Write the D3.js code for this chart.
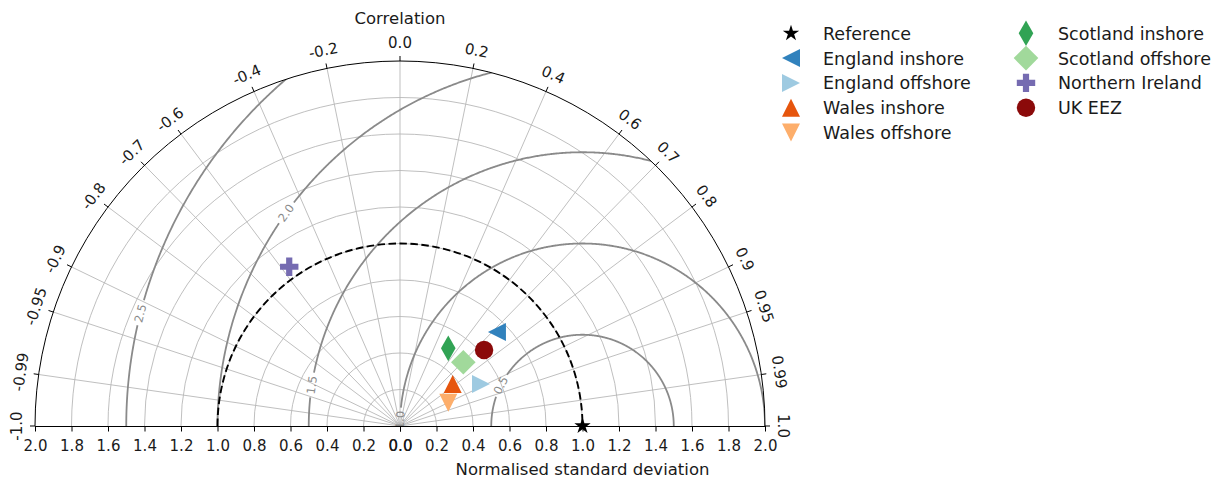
<!DOCTYPE html>
<html lang="en">
<head>
  <meta charset="UTF-8">
  <title>Taylor diagram - UK regions</title>
  <script src="https://d3js.org/d3.v7.min.js"></script>
  <style>
    body {
      margin: 0;
      background: #fff;
      font-family: "DejaVu Sans", sans-serif;
    }
    svg text {
      fill: #1a1a1a;
      font-family: "DejaVu Sans", sans-serif;
    }
    .grid {
      fill: none;
      stroke: #b8b8b8;
      stroke-width: 0.9;
    }
    .rms {
      fill: none;
      stroke: #8a8a8a;
      stroke-width: 1.8;
    }
    svg text.rms-label {
      fill: #8a8a8a;
      font-size: 11.5px;
    }
    .tick-label {
      font-size: 15px;
    }
    .axis-title {
      font-size: 16.5px;
    }
    .legend text {
      font-size: 17.5px;
    }
  </style>
</head>
<body>
  <svg id="chart" width="1225" height="482"></svg>

  <script>
    // Series (one entry per marker)
    const names = ["Reference", "England inshore", "England offshore", "Wales inshore", "Wales offshore",
                   "Scotland inshore", "Scotland offshore", "Northern Ireland", "UK EEZ"];
    const stdDevs = [1.0, 0.740, 0.500, 0.369, 0.294, 0.501, 0.492, 1.063, 0.621];
    const correlations = [1.0, 0.718, 0.888, 0.782, 0.901, 0.528, 0.705, -0.571, 0.742];
    const colours = ["#000000", "#3182bd", "#9ecae1", "#e6550d", "#fdae6b",
                     "#31a354", "#a1d99b", "#756bb1", "#8b0a0a"];
    const markers = ["star", "triangleLeft", "triangleRight", "triangleUp", "triangleDown",
                     "thinDiamond", "diamond", "plus", "circle"];

    // Axis ticks
    const corrTicks = [-1, -0.99, -0.95, -0.9, -0.8, -0.7, -0.6, -0.4, -0.2, 0,
                       0.2, 0.4, 0.6, 0.7, 0.8, 0.9, 0.95, 0.99, 1];
    const stdTicks = [0, 0.2, 0.4, 0.6, 0.8, 1.0, 1.2, 1.4, 1.6, 1.8, 2.0];
    const rmsLevels = [0.5, 1.0, 1.5, 2.0, 2.5];

    const svg = d3.select("#chart");
    const cx = 400, cy = 426, R = 365;
    const rScale = d3.scaleLinear().domain([0, 2]).range([0, R]);

    // std/corr -> pixel
    function polar(std, corr) {
      const a = Math.acos(corr);
      return [cx + rScale(std) * Math.cos(a), cy - rScale(std) * Math.sin(a)];
    }
    // cartesian (in std units) -> pixel
    function cart(x, y) {
      return [cx + rScale(x), cy - rScale(y)];
    }

    // clip to the half disc
    svg.append("defs").append("clipPath").attr("id", "half")
      .append("path")
      .attr("d", `M${cx - R},${cy} A${R},${R} 0 0 1 ${cx + R},${cy} Z`);

    const plot = svg.append("g").attr("clip-path", "url(#half)");

    // std grid arcs
    plot.selectAll(".arc-grid")
      .data(stdTicks.filter(d => d > 0 && d < 2))
      .enter().append("path")
      .attr("class", "grid")
      .attr("d", d => {
        const r = rScale(d);
        return `M${cx - r},${cy} A${r},${r} 0 0 1 ${cx + r},${cy}`;
      });

    // correlation radial grid
    plot.selectAll(".ray")
      .data(corrTicks.filter(d => Math.abs(d) < 1))
      .enter().append("line")
      .attr("class", "grid")
      .attr("x1", cx).attr("y1", cy)
      .attr("x2", d => polar(2, d)[0])
      .attr("y2", d => polar(2, d)[1]);

    // RMS difference contours, centred on the reference point
    const rmsLabelAt = {0.5: 153.5, 1.0: 178.1, 1.5: 171.4, 2.0: 144.3, 2.5: 165.7};
    const lineGen = d3.line().x(d => d[0]).y(d => d[1]);

    rmsLevels.forEach(L => {
      const la = rmsLabelAt[L];
      const halfGap = (12 / rScale(L)) * 180 / Math.PI;
      const angles = d3.range(0, 180.001, 0.25);
      const segA = angles.filter(a => a < la - halfGap);
      const segB = angles.filter(a => a > la + halfGap);
      [segA, segB].forEach(seg => {
        if (seg.length < 2) return;
        const pts = seg.map(a => {
          const t = a * Math.PI / 180;
          return cart(1 + L * Math.cos(t), L * Math.sin(t));
        });
        plot.append("path").attr("class", "rms").attr("d", lineGen(pts));
      });
      const t = la * Math.PI / 180;
      const p = cart(1 + L * Math.cos(t), L * Math.sin(t));
      plot.append("text")
        .attr("class", "rms-label")
        .attr("transform", `translate(${p[0]},${p[1]}) rotate(${-(la - 90)})`)
        .attr("text-anchor", "middle")
        .attr("dominant-baseline", "central")
        .text(L.toFixed(1));
    });

    // reference std (dashed)
    const r1 = rScale(1);
    svg.append("path")
      .attr("d", `M${cx - r1},${cy} A${r1},${r1} 0 0 1 ${cx + r1},${cy}`)
      .attr("fill", "none")
      .attr("stroke", "#000")
      .attr("stroke-width", 1.9)
      .attr("stroke-dasharray", "7.5,3.5");

    // outer correlation axis
    svg.append("path")
      .attr("d", `M${cx - R},${cy} A${R},${R} 0 0 1 ${cx + R},${cy}`)
      .attr("fill", "none")
      .attr("stroke", "#000")
      .attr("stroke-width", 1);

    const corrAxis = svg.append("g");
    corrAxis.selectAll(".ctick")
      .data(corrTicks)
      .enter().append("line")
      .attr("stroke", "#000")
      .attr("stroke-width", 1)
      .attr("x1", d => polar(2, d)[0]).attr("y1", d => polar(2, d)[1])
      .attr("x2", d => polar(2 + 5 / (R / 2), d)[0]).attr("y2", d => polar(2 + 5 / (R / 2), d)[1]);

    corrAxis.selectAll(".clabel")
      .data(corrTicks)
      .enter().append("text")
      .attr("class", "tick-label")
      .attr("text-anchor", "middle")
      .attr("dominant-baseline", "central")
      .attr("transform", d => {
        const p = polar(2 + 18 / (R / 2), d);
        const deg = Math.acos(d) * 180 / Math.PI;
        return `translate(${p[0]},${p[1]}) rotate(${90 - deg})`;
      })
      .text(d => Math.abs(d) === 1 || d === 0 ? d.toFixed(1) : String(d));

    // bottom std axes (left half and right half)
    const xRight = d3.scaleLinear().domain([0, 2]).range([cx, cx + R]);
    const xLeft = d3.scaleLinear().domain([0, 2]).range([cx, cx - R]);
    [xLeft, xRight].forEach(sc => {
      const g = svg.append("g")
        .attr("transform", `translate(0,${cy})`)
        .call(d3.axisBottom(sc).tickValues(stdTicks).tickFormat(d3.format(".1f"))
          .tickSize(5.5).tickPadding(9).tickSizeOuter(0));
      g.attr("font-family", null).attr("font-size", null);
      g.select(".domain").attr("stroke", "#000").attr("stroke-width", 1.1);
      g.selectAll(".tick line").attr("stroke", "#000");
      g.selectAll(".tick text").attr("class", "tick-label").attr("fill", "#1a1a1a");
    });

    // titles
    svg.append("text")
      .attr("class", "axis-title")
      .attr("x", cx).attr("y", 24)
      .attr("text-anchor", "middle")
      .text("Correlation");

    svg.append("text")
      .attr("class", "axis-title")
      .attr("x", xRight(1)).attr("y", 475)
      .attr("text-anchor", "middle")
      .text("Normalised standard deviation");

    // marker shapes (pixel units, centred)
    function markerPath(type) {
      switch (type) {
        case "circle": return d3.symbol(d3.symbolCircle, Math.PI * 9.2 * 9.2)();
        case "triangleUp": return "M0,-9L9,9L-9,9Z";
        case "triangleDown": return "M0,9L9,-9L-9,-9Z";
        case "triangleLeft": return "M-9,0L9,-9L9,9Z";
        case "triangleRight": return "M9,0L-9,-9L-9,9Z";
        case "diamond": return "M0,-12.3L12.3,0L0,12.3L-12.3,0Z";
        case "thinDiamond": return "M0,-12.8L7.3,0L0,12.8L-7.3,0Z";
        case "plus": {
          const a = 3.1, b = 9.2;
          return `M${-a},${-b}H${a}V${-a}H${b}V${a}H${a}V${b}H${-a}V${a}H${-b}V${-a}H${-a}Z`;
        }
        case "star": {
          const pts = d3.range(10).map(i => {
            const r = i % 2 === 0 ? 8.6 : 8.6 * 0.381966;
            const t = -Math.PI / 2 + i * Math.PI / 5;
            return [r * Math.cos(t), r * Math.sin(t)];
          });
          return "M" + pts.map(p => p.join(",")).join("L") + "Z";
        }
      }
    }

    // data markers
    const series = names.map((n, i) => ({
      name: n, std: stdDevs[i], corr: correlations[i], colour: colours[i], marker: markers[i]
    }));

    svg.append("g").selectAll("path")
      .data(series)
      .enter().append("path")
      .attr("d", d => markerPath(d.marker))
      .attr("fill", d => d.colour)
      .attr("transform", d => {
        const p = polar(d.std, d.corr);
        return `translate(${p[0]},${p[1]})`;
      });

    // legend: two columns
    const legend = svg.append("g").attr("class", "legend");
    const colX = [791, 1026];
    const textX = [823, 1058];
    const rowY0 = 33.3, rowStep = 24.8, perCol = 5;

    series.forEach((d, i) => {
      const c = i < perCol ? 0 : 1;
      const r = i < perCol ? i : i - perCol;
      const y = rowY0 + r * rowStep;
      legend.append("path")
        .attr("d", markerPath(d.marker))
        .attr("fill", d.colour)
        .attr("transform", `translate(${colX[c]},${y})`);
      legend.append("text")
        .attr("x", textX[c])
        .attr("y", y + 6.5)
        .text(d.name);
    });
  </script>
</body>
</html>
